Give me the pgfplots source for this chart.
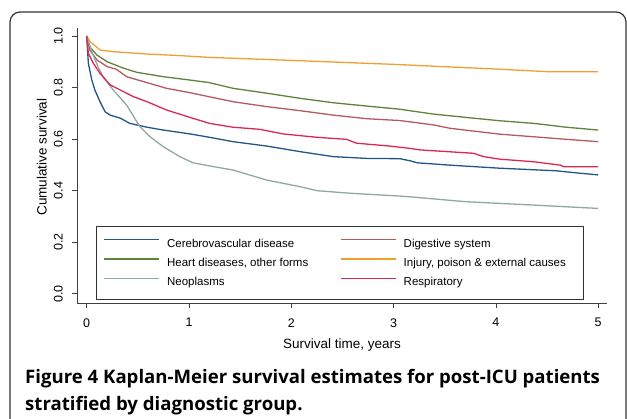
\documentclass[border=0pt]{standalone}
\usepackage{pgfplots}
\pgfplotsset{compat=1.18}
\usepackage{fontspec}
\setmainfont{Liberation Sans}
\newfontfamily\capfont{Open Sans}
\definecolor{cCer}{RGB}{35,85,135}
\definecolor{cDig}{RGB}{180,90,95}
\definecolor{cHea}{RGB}{95,130,60}
\definecolor{cInj}{RGB}{240,160,50}
\definecolor{cNeo}{RGB}{140,170,160}
\definecolor{cRes}{RGB}{220,40,80}
\begin{document}
\begin{tikzpicture}
\useasboundingbox (0pt,0pt) rectangle (627pt,419pt);
\begin{scope}
\clip (0pt,0pt) rectangle (627pt,419pt);
\draw[line width=1.2pt, color=black!80, rounded corners=10pt] (10pt,-30pt) rectangle (626pt,407pt);
\end{scope}
\begin{axis}[
  at={(77.3pt,115.7pt)}, anchor=south west,
  scale only axis, width=529.4pt, height=275.3pt,
  xmin=-0.092, xmax=5.083, ymin=-0.037, ymax=1.031,
  axis x line*=bottom, axis y line*=left,
  axis line style={-, line width=0.8pt, black!75},
  tick align=outside, major tick length=5pt,
  tick style={line width=0.8pt, black!75},
  xtick={0,1,2,3,4,5}, ytick={0,0.2,0.4,0.6,0.8,1},
  /pgf/number format/assume math mode=true,
  yticklabel style={xshift=-6pt, rotate=90, anchor=south, /pgf/number format/.cd, fixed, fixed zerofill, precision=1},
  xticklabel style={yshift=-6.5pt},
  ticklabel style={font=\fontsize{12.5}{14}\selectfont},
  label style={font=\fontsize{13.5}{16}\selectfont},
  xlabel={Survival time, years},
  ylabel={Cumulative survival},
  xlabel style={at={(axis description cs:0.5,-0.1635)}, anchor=base},
  ylabel style={at={(axis description cs:-0.0578,0.5314)}, anchor=base},
  legend columns=2,
  legend cell align=left,
  legend image code/.code={\draw[#1, line width=1.5pt] (0pt,4pt) -- (55pt,4pt);},
  legend style={at={(axis description cs:0.0353,0.2808)}, anchor=north west,
    draw=black!80, line width=0.8pt, inner xsep=7pt, inner ysep=10.3pt,
    font=\fontsize{11.5}{13}\selectfont, row sep=5.6pt,
    /tikz/every odd column/.style={column sep=5.2pt},
    /tikz/every even column/.style={column sep=29.7pt}},
  every axis plot/.append style={line width=1.3pt},
]
\addplot[cCer] coordinates {(0,1.0) (0.016,0.894) (0.05,0.829) (0.08,0.79) (0.13,0.745) (0.18,0.706) (0.23,0.693) (0.33,0.681) (0.42,0.661) (0.59,0.646) (0.75,0.635) (1.01,0.62) (1.2,0.607) (1.43,0.59) (1.76,0.573) (2.09,0.551) (2.41,0.532) (2.74,0.525) (3.06,0.524) (3.16,0.516) (3.23,0.508) (3.55,0.499) (4.04,0.487) (4.59,0.477) (4.76,0.47) (5.0,0.461)};
\addlegendentry{Cerebrovascular disease}
\addplot[cDig] coordinates {(0,1) (0.03,0.946) (0.1,0.907) (0.2,0.881) (0.29,0.871) (0.39,0.842) (0.59,0.819) (0.78,0.797) (1.01,0.78) (1.2,0.764) (1.43,0.745) (1.76,0.726) (2.09,0.71) (2.41,0.693) (2.74,0.679) (3.06,0.672) (3.16,0.667) (3.39,0.655) (3.55,0.642) (4.04,0.619) (4.37,0.609) (4.69,0.599) (5.0,0.59)};
\addlegendentry{Digestive system}
\addplot[cHea] coordinates {(0,1) (0.03,0.958) (0.1,0.926) (0.2,0.9) (0.36,0.875) (0.49,0.859) (0.75,0.842) (1.01,0.829) (1.2,0.819) (1.43,0.797) (1.76,0.778) (2.09,0.758) (2.41,0.741) (2.74,0.728) (3.06,0.716) (3.16,0.710) (3.39,0.697) (3.71,0.684) (4.04,0.671) (4.37,0.661) (4.69,0.646) (5.0,0.635)};
\addlegendentry{Heart diseases, other forms}
\addplot[cInj] coordinates {(0,1) (0.033,0.978) (0.13,0.946) (0.26,0.939) (0.59,0.93) (0.91,0.924) (1.2,0.917) (2.09,0.904) (3.06,0.889) (3.16,0.887) (4.04,0.871) (4.53,0.861) (5.0,0.861)};
\addlegendentry{Injury, poison \& external causes\hspace*{8.6pt}}
\addplot[cNeo] coordinates {(0,1) (0.05,0.939) (0.11,0.881) (0.16,0.842) (0.26,0.79) (0.39,0.732) (0.52,0.648) (0.62,0.609) (0.75,0.57) (0.91,0.532) (1.04,0.508) (1.2,0.496) (1.43,0.48) (1.76,0.441) (2.09,0.415) (2.25,0.4) (2.57,0.39) (3.06,0.379) (3.16,0.376) (3.71,0.357) (4.37,0.344) (5.0,0.331)};
\addlegendentry{Neoplasms}
\addplot[cRes] coordinates {(0,1) (0.016,0.933) (0.065,0.894) (0.13,0.855) (0.23,0.81) (0.33,0.79) (0.46,0.764) (0.59,0.745) (0.78,0.713) (1.01,0.684) (1.2,0.661) (1.43,0.646) (1.69,0.638) (1.92,0.62) (2.25,0.607) (2.54,0.599) (2.64,0.584) (2.96,0.573) (3.16,0.564) (3.26,0.558) (3.78,0.545) (3.88,0.532) (4.04,0.522) (4.37,0.512) (4.63,0.499) (4.66,0.493) (5.0,0.493)};
\addlegendentry{Respiratory}
\end{axis}
\node[anchor=base west, inner sep=0pt] at (25pt,35pt) {\capfont\fontsize{18.6}{22}\selectfont\bfseries Figure 4 Kaplan-Meier survival estimates for post-ICU patients};
\node[anchor=base west, inner sep=0pt] at (25pt,8.3pt) {\capfont\fontsize{18.6}{22}\selectfont\bfseries stratified by diagnostic group.};
\end{tikzpicture}
\end{document}
